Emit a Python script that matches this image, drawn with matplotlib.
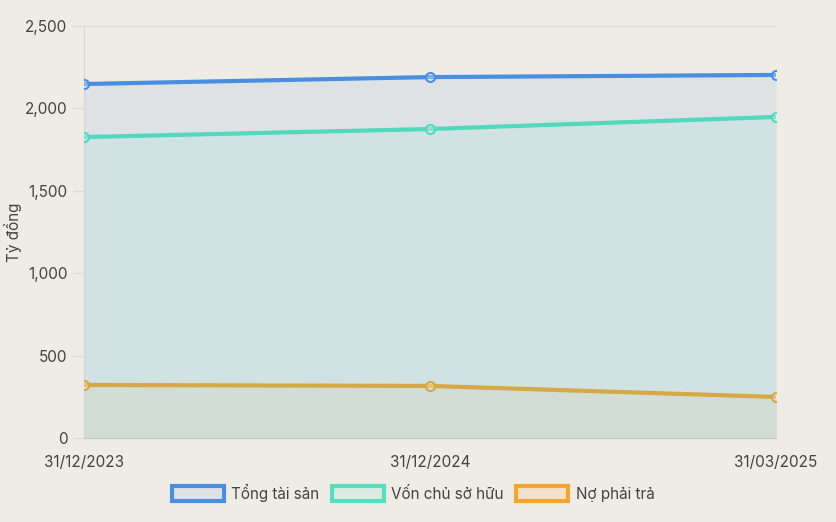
import matplotlib
matplotlib.use("Agg")
import matplotlib.pyplot as plt
from matplotlib.patches import Patch
from matplotlib.ticker import FuncFormatter

plt.rcParams['font.family'] = ['Inter', 'DejaVu Sans']

dates = ["31/12/2023", "31/12/2024", "31/03/2025"]
tong_tai_san = [2148, 2190, 2203]
von_chu_so_huu = [1826, 1875, 1948]
no_phai_tra = [322, 316, 249]
series_names = ["Tổng tài sản", "Vốn chủ sở hữu", "Nợ phải trả"]

bg = "#efebe5"
line_colors = ["#4a8ee0", "#52d8bc", "#d6a846"]
legend_edges = ["#4a8ee0", "#55dfc0", "#f2a531"]
legend_faces = ["#dfe2e4", "#dcebe3", "#f3e1cc"]
fill_colors = ["#dfe2e5", "#d1e2e2", "#d2ddd6"]

fig = plt.figure(figsize=(8.36, 5.22), dpi=100, facecolor=bg)
ax = fig.add_axes([84/836, 84/522, 692/836, 412/522])
ax.set_facecolor(bg)

x = list(range(len(dates)))
for vals, lc, fc in zip([tong_tai_san, von_chu_so_huu, no_phai_tra], line_colors, fill_colors):
    ax.fill_between(x, vals, 0, color=fc, linewidth=0, zorder=1)
for vals, lc in zip([tong_tai_san, von_chu_so_huu, no_phai_tra], line_colors):
    ax.plot(x, vals, color=lc, linewidth=3, zorder=3,
            marker="o", markersize=6.5, markerfacecolor=(1, 1, 1, 0.3),
            markeredgecolor=lc, markeredgewidth=1.5)

ax.set_xlim(0, 2)
ax.set_ylim(0, 2500)
ax.set_yticks([0, 500, 1000, 1500, 2000, 2500])
ax.yaxis.set_major_formatter(FuncFormatter(lambda v, p: f"{int(v):,}"))
ax.set_xticks(x)
ax.set_xticklabels(dates)
ax.grid(axis="y", color="#dcdad6", linewidth=1, zorder=0)
ax.set_axisbelow(True)
for s in ["top", "right"]:
    ax.spines[s].set_visible(False)
ax.spines["left"].set_color("#d9d6d1")
ax.spines["bottom"].set_color("#c8c6c2")
ax.tick_params(axis="y", length=8, color="#dcdad6", labelsize=11, labelcolor="#444444", pad=4)
ax.tick_params(axis="x", length=0, labelsize=11, labelcolor="#444444", pad=12)
ax.set_ylabel("Tỷ đồng", fontsize=11, color="#444444", va="center")
ax.yaxis.set_label_coords((13 - 84) / 692, 0.5)

handles = [Patch(facecolor=f, edgecolor=e, linewidth=3, label=n)
           for f, e, n in zip(legend_faces, legend_edges, series_names)]
leg = fig.legend(handles=handles, loc="center", bbox_to_anchor=(413/836, 1 - 493/522),
                 ncol=3, frameon=False, fontsize=11, handlelength=3.4, handleheight=1.1,
                 handletextpad=0.5, columnspacing=0.8)
for t in leg.get_texts():
    t.set_color("#444444")

fig.savefig("out.png", dpi=100, facecolor=bg)
